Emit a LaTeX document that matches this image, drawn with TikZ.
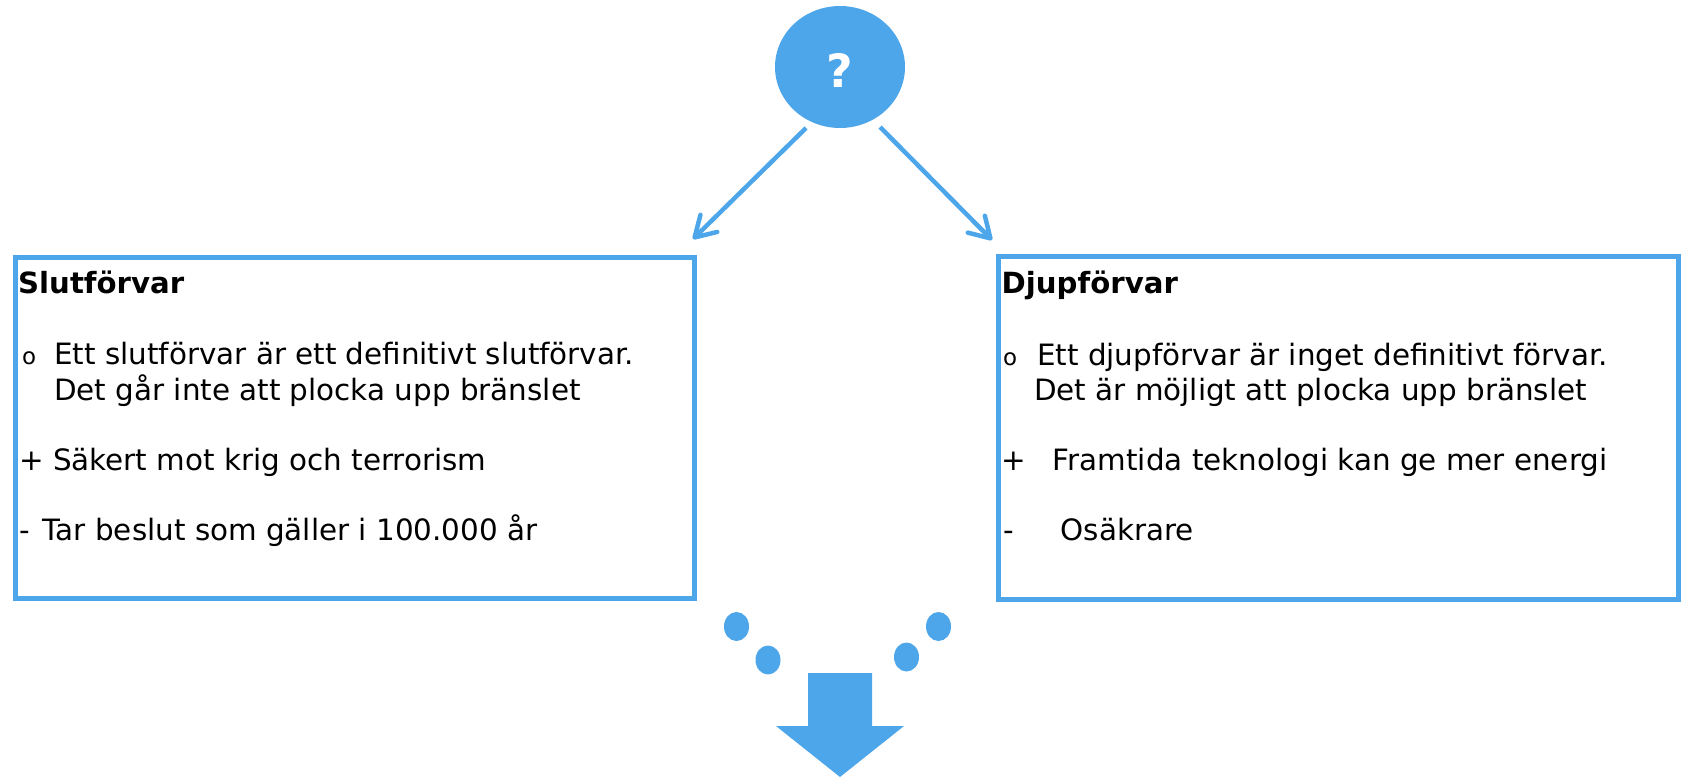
\documentclass[tikz,border=0pt]{standalone}
\usepackage{fontspec}
\setmainfont{DejaVu Sans}
\usetikzlibrary{arrows.meta,shapes.geometric}
\definecolor{blu}{RGB}{77,166,233}
\tikzset{
 box/.style={draw=blu, line width=5bp, inner sep=0, anchor=north west, rectangle},
 txt/.style={anchor=base west, inner sep=0, font=\fontsize{29.5pt}{35pt}\selectfont},
 ttl/.style={anchor=base west, inner sep=0, font=\fontsize{29.3pt}{35pt}\selectfont\bfseries},
 bul/.style={anchor=base west, inner sep=0, font=\fontsize{23pt}{26pt}\selectfont},
 conn/.style={draw=blu, line width=4.5bp, -{Straight Barb[length=20bp,width=24bp,round]}},
 dot/.style={ellipse, fill=blu, minimum width=25bp, minimum height=29bp, inner sep=0},
}
\begin{document}
\begin{tikzpicture}[x=1bp,y=-1bp]
\useasboundingbox (0,0) rectangle (1681,777);
% question circle
\node[ellipse, fill=blu, minimum width=130bp, minimum height=122bp, inner sep=0] (q) at (840,67) {};
\node[anchor=center, inner sep=0, text=white, font=\fontsize{46pt}{50pt}\selectfont\bfseries] (qm) at (840,70) {?};
% boxes
\node[box, minimum width=679bp, minimum height=341bp] (lbox) at (12.5,254.5) {};
\node[box, minimum width=680bp, minimum height=343bp] (rbox) at (995.5,253.5) {};
% connectors
\coordinate (ls) at (806,128);
\coordinate (le) at (693,239);
\coordinate (rs) at (880,127);
\coordinate (re) at (992,240);
\draw[conn] (ls) -- (le);
\draw[conn] (rs) -- (re);
% left texts
\node[ttl] (lt) at (18,293) {Slutförvar};
\node[bul] (lb) at (22,364) {o};
\node[txt] (l1) at (54,364) {Ett slutförvar är ett definitivt slutförvar.};
\node[txt] (l2) at (54,400) {Det går inte att plocka upp bränslet};
\node[txt] (l3) at (19,470) {+ Säkert mot krig och terrorism};
\node[txt] (l4) at (19,540) {-\hspace{13bp}Tar beslut som gäller i 100.000 år};
% right texts
\node[ttl] (rt) at (1001.5,293) {Djupförvar};
\node[bul] (rb) at (1003,365) {o};
\node[txt] (r1) at (1037,365) {Ett djupförvar är inget definitivt förvar.};
\node[txt] (r2) at (1034,400) {Det är möjligt att plocka upp bränslet};
\node[txt] (r3) at (1001,470) {+\hspace{27bp}Framtida teknologi kan ge mer energi};
\node[txt] (r4) at (1003,540) {-\hspace{47bp}Osäkrare};
% dots
\node[dot] (d1) at (736.5,626.5) {};
\node[dot] (d2) at (768,660) {};
\node[dot] (d3) at (906.5,657) {};
\node[dot] (d4) at (938.5,626.5) {};
% big arrow
\fill[blu] (808,673) -- (872,673) -- (872,726) -- (904,726) -- (840,777) -- (776,726) -- (808,726) -- cycle;
\end{tikzpicture}
\end{document}
